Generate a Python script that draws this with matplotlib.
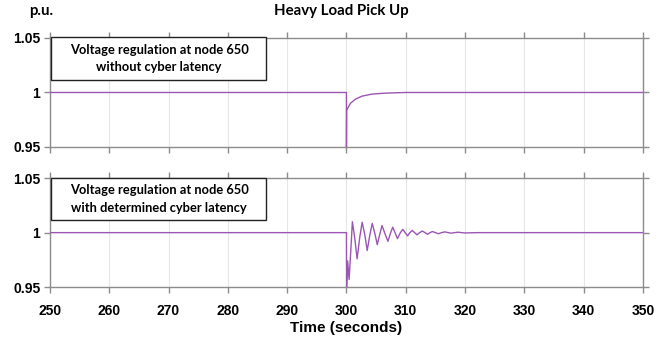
import matplotlib
matplotlib.use("Agg")
import matplotlib.pyplot as plt
from matplotlib.patches import Rectangle

# Top panel: without cyber latency (time s, voltage p.u.)
t_top = [250, 300.0, 300.001, 300.03, 300.67, 301.5, 302.6, 304.3, 306.5, 309.9, 350]
v_top = [1.0, 1.0, 0.94, 0.9837, 0.990, 0.9938, 0.9966, 0.9985, 0.9994, 1.0, 1.0]

# Bottom panel: with determined cyber latency (extrema and crossings)
t_bot = [250, 300.0, 300.02, 300.2, 300.45, 300.75, 301.0, 301.4, 301.8, 302.25, 302.65,
         303.1, 303.5, 303.95, 304.35, 304.8, 305.2, 305.6, 306.0, 306.5, 307.0, 307.4,
         307.8, 308.2, 308.6, 309.05, 309.5, 309.9, 310.3, 310.7, 311.1, 311.5, 311.9,
         312.35, 312.8, 313.25, 313.7, 314.1, 314.5, 315.0, 315.5, 316.05, 316.6, 317.15,
         317.7, 318.25, 318.8, 319.4, 320.0, 322.0, 350]
v_bot = [1.0, 1.0, 0.948, 0.974, 0.957, 0.985, 1.010, 0.995, 0.976, 0.996, 1.0095,
         0.998, 0.9836, 0.998, 1.0085, 0.999, 0.989, 0.998, 1.0065, 0.999, 0.992, 0.999,
         1.005, 1.0, 0.9945, 0.9995, 1.003, 1.0, 0.997, 1.0, 1.002, 1.0, 0.998,
         1.0, 1.0015, 1.0, 0.9985, 1.0, 1.001, 1.0, 0.999, 1.0, 1.0007, 1.0,
         0.9995, 1.0, 1.0004, 1.0, 0.9997, 1.0, 1.0]

xticks = [250, 260, 270, 280, 290, 300, 310, 320, 330, 340, 350]
yticks = [0.95, 1.0, 1.05]
ytick_labels = ["0.95", "1", "1.05"]
box_top = "Voltage regulation at node 650\nwithout cyber latency"
box_bot = "Voltage regulation at node 650\nwith determined cyber latency"

line_color = "#9b55b3"
gray = "#8c8c8c"

fig = plt.figure(figsize=(6.69, 3.41), dpi=100)
ax1 = fig.add_axes([0.0747, 0.569, 0.8863, 0.3196])
ax2 = fig.add_axes([0.0747, 0.158, 0.8863, 0.3196])

for ax, t, v, txt in [(ax1, t_top, v_top, box_top), (ax2, t_bot, v_bot, box_bot)]:
    ax.plot(t, v, color=line_color, lw=1.0, zorder=3, solid_joinstyle="round")
    ax.set_xlim(250, 350)
    ax.set_ylim(0.95, 1.05)
    ax.set_xticks(xticks)
    ax.set_yticks(yticks)
    ax.set_yticklabels(ytick_labels, fontfamily="Liberation Sans", fontweight="bold", fontsize=10)
    ax.grid(axis="x", color="#e6e6e6", lw=0.8, zorder=0)
    for s in ax.spines.values():
        s.set_color(gray)
        s.set_linewidth(1.0)
    ax.tick_params(direction="out", length=4, color=gray, width=1.0,
                   top=True, right=True, pad=3)
    ax.add_patch(Rectangle((0.002, 0.615), 0.362, 0.39, transform=ax.transAxes,
                           fc="white", ec="#222222", lw=1.0, zorder=5, clip_on=False))
    ax.text(0.184, 0.81, txt, transform=ax.transAxes, ha="center", va="center",
            fontfamily="Lato", fontweight="bold", fontsize=9.3, linespacing=1.55,
            multialignment="center", zorder=6)

ax1.set_xticklabels([])
ax2.set_xticklabels([str(x) for x in xticks], fontfamily="Liberation Sans",
                    fontweight="bold", fontsize=10)
ax2.tick_params(axis="x", pad=8)
ax2.set_xlabel("Time (seconds)", fontfamily="Liberation Sans", fontweight="bold",
               fontsize=11, labelpad=2)

fig.text(0.51, 0.968, "Heavy Load Pick Up", ha="center", va="center",
         fontfamily="Lato", fontweight="bold", fontsize=10.8)
fig.text(0.043, 0.968, "p.u.", ha="left", va="center",
         fontfamily="Lato", fontweight="bold", fontsize=10.8)

fig.savefig("out.png", dpi=100)
